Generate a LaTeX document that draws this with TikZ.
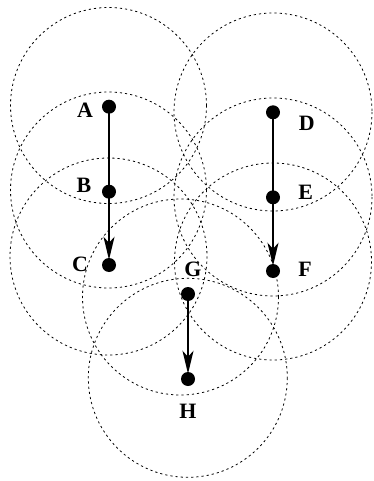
\documentclass[tikz,border=0pt]{standalone}
\usepackage{fontspec}
\setmainfont{Liberation Serif}
\usetikzlibrary{arrows.meta}
\tikzset{
  rangecircle/.style={draw=black, line width=0.8bp, dash pattern=on 2.2bp off 3bp},
  dot/.style={circle, fill=black, inner sep=0pt, minimum size=14bp},
  lbl/.style={inner sep=0pt, font=\fontsize{22}{22}\selectfont\bfseries},
  link/.style={draw=black, line width=2bp},
  move/.style={link, shorten >=-2bp, -{Stealth[length=23bp, width=11bp, inset=6bp]}}
}
\begin{document}
\begin{tikzpicture}[x=1bp, y=-1bp]
\useasboundingbox (0,0) rectangle (373,481);
% transmission ranges
\draw[rangecircle] (108.5,105.5) circle[radius=98];
\draw[rangecircle] (108.5,190) circle[radius=98];
\draw[rangecircle] (108.5,256.5) circle[radius=98.5];
\draw[rangecircle] (273,112) circle[radius=99];
\draw[rangecircle] (273,197) circle[radius=99];
\draw[rangecircle] (273,261.5) circle[radius=98.5];
\draw[rangecircle] (180.5,297) circle[radius=98];
\draw[rangecircle] (187.8,377.8) circle[radius=99.5];
% nodes
\node[dot] (A) at (109,106.7) {};
\node[dot] (B) at (109,191.7) {};
\node[dot] (C) at (109,265) {};
\node[dot] (D) at (273,112.3) {};
\node[dot] (E) at (273,197.3) {};
\node[dot] (F) at (273,271) {};
\node[dot] (G) at (188,294) {};
\node[dot] (H) at (188,379) {};
% labels
\node[lbl] (lA) at (85,110.5) {A};
\node[lbl] (lB) at (84,185) {B};
\node[lbl] (lC) at (80,264.7) {C};
\node[lbl] (lD) at (306.7,123) {D};
\node[lbl] (lE) at (305.8,192.5) {E};
\node[lbl] (lF) at (305,269.5) {F};
\node[lbl] (lG) at (193,269.5) {G};
\node[lbl] (lH) at (188,411.7) {H};
% movements
\draw[link] (A.center) -- (B.center);
\draw[move] (B.center) -- (C);
\draw[link] (D.center) -- (E.center);
\draw[move] (E.center) -- (F);
\draw[move] (G.center) -- (H);
\end{tikzpicture}
\end{document}
